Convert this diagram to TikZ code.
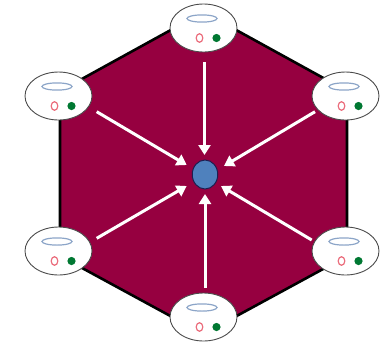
\documentclass[tikz,border=0pt]{standalone}
\usetikzlibrary{shapes.geometric,arrows.meta}
\definecolor{hexfill}{RGB}{150,0,64}
\definecolor{dotblue}{RGB}{79,129,189}
\definecolor{dotedge}{RGB}{30,30,80}
\definecolor{haloblue}{RGB}{140,165,200}
\definecolor{ringred}{RGB}{235,110,125}
\definecolor{dotgreen}{RGB}{0,120,50}
\tikzset{
  station/.style={ellipse, draw=black!70, line width=0.9pt, fill=white, minimum width=67pt, minimum height=48pt, inner sep=0pt},
  hub/.style={ellipse, draw=dotedge, line width=1pt, fill=dotblue, minimum width=25.5pt, minimum height=29pt, inner sep=0pt},
  flow/.style={draw=white, line width=3pt, -{Triangle[length=10pt,width=12pt]}},
  halo/.style={draw=haloblue, line width=1.2pt},
  ring/.style={draw=ringred, line width=1.2pt},
  gdot/.style={fill=dotgreen}
}
\begin{document}
\begin{tikzpicture}[x=1pt,y=-1pt]
\useasboundingbox (0,0) rectangle (391,341);
% hexagon
\draw[fill=hexfill, draw=black, line width=2.6pt, line join=round]
  (203.5,12) -- (347,91) -- (347,256) -- (203.5,334) -- (60,256) -- (60,91) -- cycle;
% hub
\node[hub] (c) at (205,174.5) {};
% stations
\foreach \n/\x/\y in {t/203.5/28, ul/58.5/96, ur/345.5/96, ll/58.5/251, lr/345.5/251, b/203.5/317}{
  \node[station] (\n) at (\x,\y) {};
  \draw[halo] ([xshift=-1.5pt,yshift=9.5pt]\n.center) ellipse [x radius=15pt, y radius=3.6pt];
  \draw[ring] ([xshift=-4pt,yshift=-10pt]\n.center) ellipse [x radius=3.3pt, y radius=4.3pt];
  \fill[gdot] ([xshift=13pt,yshift=-10pt]\n.center) circle [radius=4.1pt];
}
% arrow start points
\coordinate (st) at (204.5,62);
\coordinate (sul) at (96.7,111.7);
\coordinate (sur) at (315,111.7);
\coordinate (sll) at (96.7,238.3);
\coordinate (slr) at (311.7,240);
\coordinate (sb) at (205,288);
% arrow tips
\coordinate (et) at (204.5,155);
\coordinate (eul) at (186.7,165);
\coordinate (eur) at (224,166);
\coordinate (ell) at (186.7,186);
\coordinate (elr) at (221,186);
\coordinate (eb) at (205,194);
\draw[flow] (st) -- (et);
\draw[flow] (sul) -- (eul);
\draw[flow] (sur) -- (eur);
\draw[flow] (sll) -- (ell);
\draw[flow] (slr) -- (elr);
\draw[flow] (sb) -- (eb);
\end{tikzpicture}
\end{document}
